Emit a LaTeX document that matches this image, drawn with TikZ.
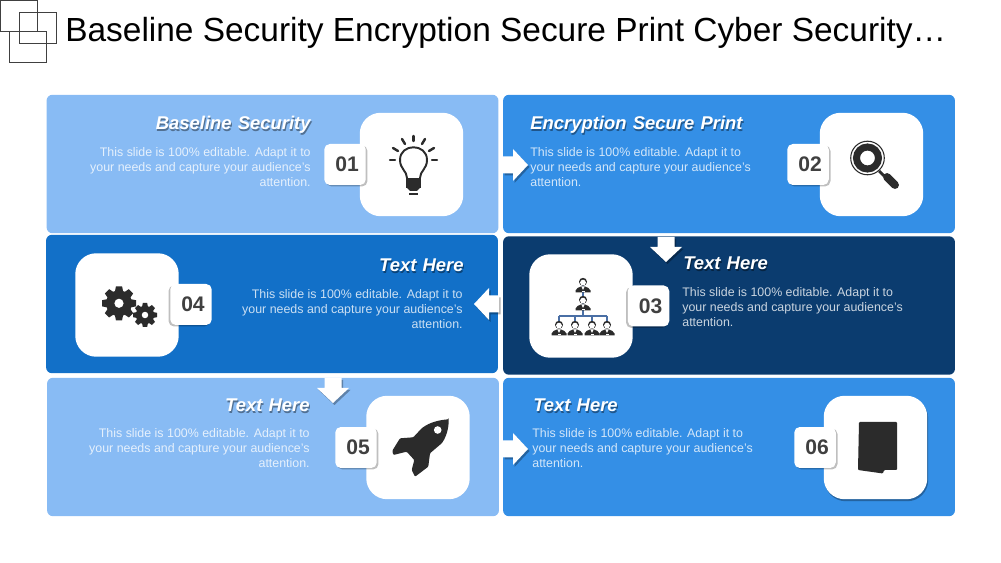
\documentclass[tikz,border=0pt]{standalone}
\usepackage{fontspec}
\setmainfont{Liberation Sans}
\newfontfamily\headfont[WordSpace=1.2]{Liberation Sans}
\usetikzlibrary{shadows}
\definecolor{panellight}{HTML}{88BBF4}
\definecolor{panelmid}{HTML}{348FE6}
\definecolor{panelblue}{HTML}{1270C8}
\definecolor{paneldark}{HTML}{0B3C6F}
\definecolor{icondark}{HTML}{2B2B2B}
\definecolor{numgrey}{HTML}{404040}
\definecolor{linkblue}{HTML}{4A6FA5}
\newcommand{\bodytext}[3]{#1\\#2\\#3}
\tikzset{
    panel/.style={rectangle,rounded corners=.12cm,minimum width=9.04cm,minimum height=2.77cm,inner sep=0pt},
    tile/.style={rectangle,rounded corners=.42cm,fill=white,minimum width=2.07cm,minimum height=2.07cm,inner sep=0pt},
    badge/.style={rectangle,rounded corners=.11cm,fill=white,minimum width=.83cm,minimum height=.82cm,inner sep=0pt,
        text=numgrey,font=\fontsize{12}{14}\selectfont\bfseries,execute at begin node=\hspace*{.08cm}},
    shaderight/.style={drop shadow={shadow xshift=.035cm,shadow yshift=-.03cm,opacity=.25,fill=black}},
    shadeleft/.style={drop shadow={shadow xshift=-.035cm,shadow yshift=-.03cm,opacity=.25,fill=black}},
    headtxt/.style={inner sep=0pt,text=white,font=\fontsize{10.5}{12}\headfont\bfseries\itshape},
    headshade/.style={headtxt,text=black,text opacity=.4,xshift=.5pt,yshift=-.6pt},
    bodytxt/.style={inner sep=0pt,text=white,text opacity=.78,font=\fontsize{7.06}{8.5}\selectfont},
    square/.style={draw=black!75,line width=.55pt,fill=none},
    pics/blockarrow/.style={code={
        \fill[white,drop shadow={shadow xshift=.03cm,shadow yshift=-.04cm,opacity=.3,fill=black}]
            (0,-8.5) -- (10,-8.5) -- (10,-16) -- (25,0) -- (10,16) -- (10,8.5) -- (0,8.5) -- cycle;
    }},
    pics/gear/.style={code={
        \foreach \a in {0,45,...,315}
            \fill[icondark,rotate=\a] (-.18,-1) -- (.18,-1) -- (.26,-.6) -- (-.26,-.6) -- cycle;
        \fill[icondark] (0,0) circle (.76);
        \fill[white] (0,0) circle (.27);
    }},
    pics/person/.style={code={
        \fill[icondark] (-7.5,7.5) -- (-7.5,5.5) .. controls (-7,3) and (-4,2.5) .. (-2,1.5) -- (2,1.5)
            .. controls (4,2.5) and (7,3) .. (7.5,5.5) -- (7.5,7.5) -- cycle;
        \fill[icondark] (0,-3.2) circle (4);
        \fill[white] (0,-2.4) circle (2.9);
        \fill[white] (-1.6,1.5) -- (1.6,1.5) -- (0,5) -- cycle;
        \fill[white] (-1.5,5.6) rectangle (1.5,7);
    }}
}
\begin{document}
\begin{tikzpicture}[x=.02cm,y=-.02cm]
    \useasboundingbox (0,0) rectangle (1001,563);

    \draw[square] (0,0) rectangle (37,31);
    \draw[square] (19,12) rectangle (56,43);
    \draw[square] (9,31) rectangle (46,62);
    \node[anchor=base west,inner sep=0pt,text=black,font=\fontsize{19.03}{22}\selectfont] (title) at (65,42)
        {Baseline Security Encryption Secure Print Cyber Security…};

    \node[panel,fill=panellight] (panelA) at (272.5,164) {};
    \node[panel,fill=panelmid] (panelB) at (729,164) {};
    \node[panel,fill=paneldark] (panelC) at (729,305.5) {};
    \node[panel,fill=panelblue] (panelD) at (272,304) {};
    \node[panel,fill=panellight] (panelE) at (273,447) {};
    \node[panel,fill=panelmid] (panelF) at (729,447) {};

    \coordinate (arrAB) at (503,165);
    \coordinate (arrBC) at (666,237);
    \coordinate (arrCD) at (499,304);
    \coordinate (arrDE) at (333,378);
    \coordinate (arrEF) at (503,449);
    \pic at (arrAB) {blockarrow};
    \pic[rotate=-90] at (arrBC) {blockarrow};
    \pic[rotate=180] at (arrCD) {blockarrow};
    \pic[rotate=-90] at (arrDE) {blockarrow};
    \pic at (arrEF) {blockarrow};

    \node[tile] (tileA) at (411.5,164.5) {};
    \node[tile] (tileB) at (871.5,164.5) {};
    \node[tile] (tileC) at (581,306) {};
    \node[tile] (tileD) at (127,305) {};
    \node[tile] (tileE) at (418,447.5) {};
    \node[tile,drop shadow={shadow xshift=.02cm,shadow yshift=-.04cm,opacity=.3,fill=black}] (tileF) at (875.5,447.5) {};

    \node[badge,shaderight] (numA) at (345,164.5) {01};
    \node[badge,shaderight] (numB) at (808,164.5) {02};
    \node[badge,shadeleft] (numC) at (648.5,306) {03};
    \node[badge,shadeleft] (numD) at (191,304.5) {04};
    \node[badge,shaderight] (numE) at (356,447.5) {05};
    \node[badge,shaderight] (numF) at (815,447.5) {06};

    \node[headshade,anchor=base east] at (311,130) {Baseline Security};
    \node[headtxt,anchor=base east] (headA) at (311,130) {Baseline Security};
    \node[headshade,anchor=base west] at (530,130) {Encryption Secure Print};
    \node[headtxt,anchor=base west] (headB) at (530,130) {Encryption Secure Print};
    \node[headshade,anchor=base west] at (683,270) {Text Here};
    \node[headtxt,anchor=base west] (headC) at (683,270) {Text Here};
    \node[headshade,anchor=base east] at (464,272) {Text Here};
    \node[headtxt,anchor=base east] (headD) at (464,272) {Text Here};
    \node[headshade,anchor=base east] at (310,412) {Text Here};
    \node[headtxt,anchor=base east] (headE) at (310,412) {Text Here};
    \node[headshade,anchor=base west] at (533,412) {Text Here};
    \node[headtxt,anchor=base west] (headF) at (533,412) {Text Here};

    \node[bodytxt,anchor=east,align=right] (bodyA) at (311,167)
        {\bodytext{This slide is 100\% editable. Adapt it to}{your needs and capture your audience's}{attention.}};
    \node[bodytxt,anchor=west,align=left] (bodyB) at (530,167)
        {\bodytext{This slide is 100\% editable. Adapt it to}{your needs and capture your audience's}{attention.}};
    \node[bodytxt,anchor=west,align=left] (bodyC) at (682,307)
        {\bodytext{This slide is 100\% editable. Adapt it to}{your needs and capture your audience's}{attention.}};
    \node[bodytxt,anchor=east,align=right] (bodyD) at (463,309)
        {\bodytext{This slide is 100\% editable. Adapt it to}{your needs and capture your audience's}{attention.}};
    \node[bodytxt,anchor=east,align=right] (bodyE) at (310,448)
        {\bodytext{This slide is 100\% editable. Adapt it to}{your needs and capture your audience's}{attention.}};
    \node[bodytxt,anchor=west,align=left] (bodyF) at (532,448)
        {\bodytext{This slide is 100\% editable. Adapt it to}{your needs and capture your audience's}{attention.}};

    % bulb
    \draw[icondark,line width=1.1pt,line cap=round] (407,178) .. controls (407,171) and (400,169) .. (400,160)
        .. controls (400,143) and (427,143) .. (427,160) .. controls (427,169) and (420,171) .. (420,178);
    \fill[icondark] (406,178) rectangle (421,188);
    \fill[icondark] (407,188) -- (420,188) -- (417,191) -- (410,191) -- cycle;
    \draw[icondark,line width=.95pt] (409,194) -- (418,194);
    \draw[icondark,line width=1.4pt,line cap=round] (390,160) -- (395,160);
    \draw[icondark,line width=1.4pt,line cap=round] (393,148) -- (398,151);
    \draw[icondark,line width=1.4pt,line cap=round] (402,139) -- (405,144);
    \draw[icondark,line width=1.4pt,line cap=round] (413.5,136) -- (413.5,141);
    \draw[icondark,line width=1.4pt,line cap=round] (425,139) -- (422,144);
    \draw[icondark,line width=1.4pt,line cap=round] (434,148) -- (429,151);
    \draw[icondark,line width=1.4pt,line cap=round] (437,160) -- (432,160);

    % magnifier
    \draw[icondark,line width=.6pt] (867.5,158) circle (16.8);
    \draw[icondark,line width=4pt] (867.5,158) circle (11);
    \draw[icondark,line width=1.6pt] (879,171) -- (884,176);
    \draw[icondark,line width=4.5pt,line cap=round] (887,177) -- (895,185);

    % people
    \coordinate (bossTop) at (583,285);
    \coordinate (bossMid) at (583,303);
    \coordinate (staffA) at (559,328);
    \coordinate (staffB) at (575,328);
    \coordinate (staffC) at (592,328);
    \coordinate (staffD) at (607,328);
    \coordinate (busL) at (559,316);
    \coordinate (busM) at (583,316);
    \coordinate (busR) at (607,316);
    \draw[linkblue,line width=.6pt] (bossTop) -- (bossMid);
    \draw[linkblue,line width=.6pt] (bossMid) -- (busM);
    \draw[linkblue,line width=.6pt] (busL) -- (busR);
    \draw[linkblue,line width=.6pt] (busL) -- (staffA);
    \draw[linkblue,line width=.6pt] (staffB |- busL) -- (staffB);
    \draw[linkblue,line width=.6pt] (staffC |- busL) -- (staffC);
    \draw[linkblue,line width=.6pt] (busR) -- (staffD);
    \pic at (bossTop) {person};
    \pic at (bossMid) {person};
    \pic at (staffA) {person};
    \pic at (staffB) {person};
    \pic at (staffC) {person};
    \pic at (staffD) {person};

    % gears
    \pic[scale=17] at (119,303.3) {gear};
    \pic[scale=12] at (145,315) {gear};

    % rocket
    \fill[icondark,rounded corners=.02cm] (448.5,419.3) .. controls (449,426) and (447,436) .. (441.7,443.3) -- (430,453.3)
        -- (428.3,466.7) -- (415,476.7) -- (411.7,470) -- (414.3,460) -- (406.7,451.7) -- (393.3,455) -- (392.3,450.7)
        -- (400,438.3) -- (413.3,437.3) -- (421.7,428.3) .. controls (430,422) and (440,420) .. (448.5,419.3) -- cycle;
    \fill[white] (437.7,430) circle (3.8);

    % sheet
    \fill[icondark,rounded corners=.02cm] (859,422) -- (897,422) -- (897,470) -- (884,470) -- (883,473.5) -- (858,470) -- cycle;
\end{tikzpicture}
\end{document}
